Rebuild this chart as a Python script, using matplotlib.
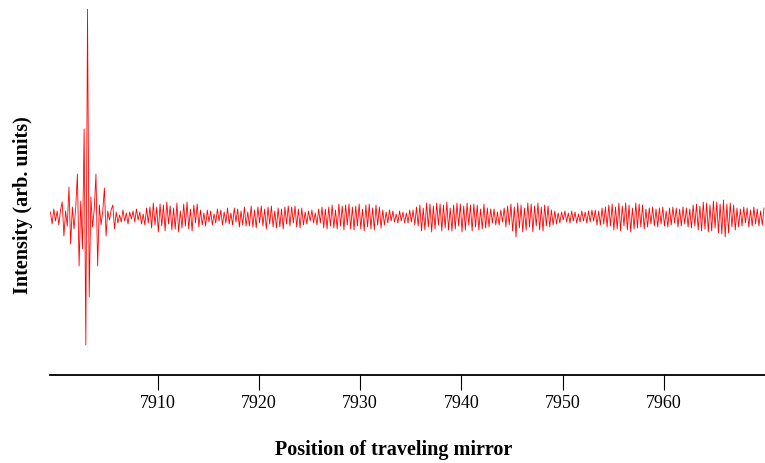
"""Interferogram trace: intensity against traveling mirror position."""

import matplotlib

matplotlib.use("Agg")
import matplotlib.pyplot as plt
import numpy as np

plt.rcParams["font.family"] = ["Liberation Serif", "DejaVu Serif"]

# sampling of the trace (mirror position units)
x_start = 7899.4
x_step = 1.0 / 6.0

# intensity samples (arb. units) in 5-unit chunks
seg_00 = [5, -7, 8, -4, 6, -8, 7, 15, -19, 6, -9, 30, -27, 10, -12, 9, 43, -49, 16, -32,
          88, -128, 208, -80, 20, -10, 8, 43, -49, 12]
seg_01 = [-8, 5, 29, -19, 6, -3, 7, 12, -12, 5, -6, 2, -5, 7, -4, 4, -7, 5, -2, 6,
          -5, 8, -3, 5, -7, 3, -8, 9, -6, 10]
seg_02 = [-11, 14, -8, 10, -15, 13, -9, 12, -14, 15, -7, 11, -13, 9, -12, 14, -15, 6, -11, 13,
          -9, 15, -12, 8, -14, 12, -6, 13, -10, 7]
seg_03 = [-8, 4, -9, 7, -5, 6, -8, 3, -6, 8, -4, 7, -8, 5, -6, 9, -7, 4, -8, 9,
          -5, 8, -10, 6, -8, 10, -9, 5, -9, 11]
seg_04 = [-10, 7, -11, 10, -6, 11, -9, 8, -12, 10, -7, 11, -10, 6, -11, 9, -10, 8, -12, 10,
          -7, 11, -9, 10, -6, 11, -10, 8, -11, 9]
seg_05 = [-8, 5, -7, 6, -4, 7, -6, 4, -8, 8, -6, 10, -11, 8, -12, 10, -9, 12, -11, 7,
          -12, 13, -9, 11, -13, 12, -8, 13, -12, 10]
seg_06 = [-13, 11, -9, 13, -12, 8, -14, 12, -10, 13, -12, 9, -13, 12, -8, 10, -11, 7, -8, 5,
          -6, 7, -4, 6, -5, 3, -6, 6, -4, 5]
seg_07 = [-6, 4, -6, 7, -5, 7, -8, 10, -9, 12, -14, 9, -13, 14, -10, 13, -15, 11, -12, 14,
          -8, 13, -14, 12, -11, 15, -13, 9, -14, 12]
seg_08 = [-12, 14, -9, 13, -15, 11, -13, 14, -8, 12, -14, 13, -10, 12, -13, 8, -12, 13, -11, 9,
          -10, 8, -6, 8, -8, 5, -8, 7, -5, 9]
seg_09 = [-10, 11, -8, 13, -14, 10, -20, 14, -11, 12, -15, 9, -13, 14, -10, 13, -15, 11, -9, 14,
          -13, 10, -14, 12, -9, 11, -10, 7, -8, 6]
seg_10 = [-7, 4, -6, 5, -3, 6, -5, 4, -6, 6, -4, 5, -6, 3, -5, 6, -4, 5, -6, 6,
          -5, 7, -4, 7, -8, 6, -8, 9, -7, 10]
seg_11 = [-10, 12, -9, 13, -13, 10, -12, 14, -14, 11, -9, 14, -13, 12, -15, 9, -12, 14, -11, 13,
          -10, 12, -12, 8, -10, 9, -7, 10, -9, 8]
seg_12 = [-10, 9, -7, 10, -9, 6, -10, 9, -8, 10, -6, 9, -10, 8, -9, 10, -7, 9, -10, 8,
          -11, 12, -9, 13, -13, 11, -14, 15, -12, 14]
seg_13 = [-15, 12, -14, 16, -11, 15, -16, 13, -17, 17, -20, 13, -16, 14, -10, 12, -13, 9, -10, 8,
          -9, 10, -6, 9, -10, 7, -9, 10, -7, 8, -9, 6, -8, 9]

segments = [seg_00, seg_01, seg_02, seg_03, seg_04, seg_05, seg_06,
            seg_07, seg_08, seg_09, seg_10, seg_11, seg_12, seg_13]

x_ticks = [7910, 7920, 7930, 7940, 7950, 7960]
x_label = "Position of traveling mirror"
y_label = "Intensity (arb. units)"

intensity = np.concatenate([np.asarray(s, dtype=float) for s in segments])
position = x_start + x_step * np.arange(intensity.size)

fig = plt.figure(figsize=(7.65, 4.64), dpi=100)
ax = fig.add_axes([50 / 765, 88 / 464, 715 / 765, 366 / 464])

ax.plot(position, intensity, color="#ff0000", linewidth=0.6)

ax.set_xlim(7899.36, 7970.0)
ax.set_ylim(-158, 208)

for side in ("top", "right", "left"):
    ax.spines[side].set_visible(False)
ax.spines["bottom"].set_linewidth(1.3)

ax.set_yticks([])
ax.set_xticks(x_ticks)
ax.set_xticklabels([str(t) for t in x_ticks])
ax.tick_params(axis="x", direction="out", length=10.5, width=0.8, pad=3, labelsize=13)

fig.text(394 / 765, 1 - 450 / 464, x_label, ha="center", va="center",
         fontsize=14.5, fontweight="bold")
fig.text(23 / 765, 1 - 205 / 464, y_label, ha="center", va="center",
         rotation=90, fontsize=14.5, fontweight="bold")

fig.savefig("out.png", dpi=100, facecolor="white")
plt.close(fig)
